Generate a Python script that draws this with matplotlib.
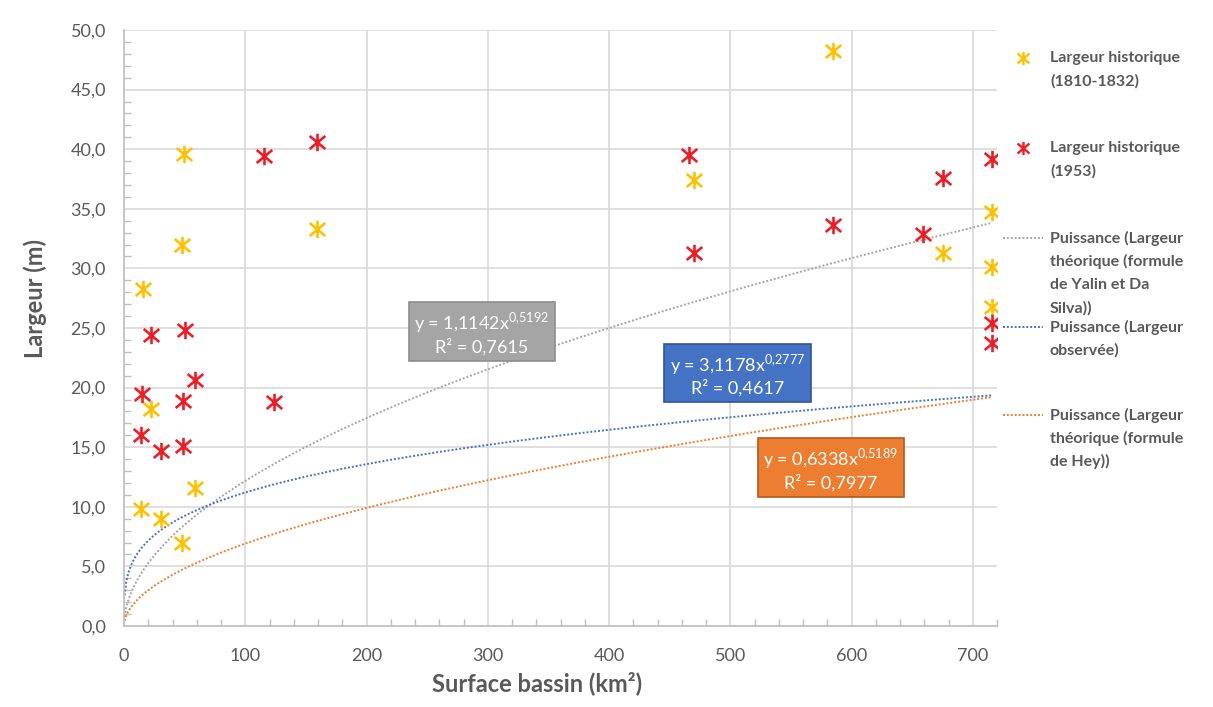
import numpy as np
import matplotlib.pyplot as plt
from matplotlib.lines import Line2D
from matplotlib.path import Path
from matplotlib.ticker import MultipleLocator, FuncFormatter

plt.rcParams['font.family'] = ['Lato', 'DejaVu Sans']

# historical widths (1810-1832)
hist1_x = [15.4, 49.6, 48.2, 22.0, 58.9, 13.8, 30.3, 48.2, 159.2, 470.5, 584.7, 675.5, 716, 716, 716]
hist1_y = [28.3, 39.6, 32.0, 18.2, 11.6, 9.8, 9.0, 7.0, 33.3, 37.4, 48.2, 31.3, 34.7, 30.1, 26.8]

# historical widths (1953)
hist2_x = [115.1, 159.2, 22.3, 50.4, 58.9, 15.1, 48.5, 123.4, 13.8, 30.3, 48.5,
           466.2, 470.5, 584.7, 659.0, 675.5, 716, 716, 716]
hist2_y = [39.4, 40.6, 24.4, 24.8, 20.6, 19.5, 18.9, 18.8, 16.0, 14.7, 15.1,
           39.5, 31.3, 33.6, 32.9, 37.6, 39.2, 25.4, 23.7]

# power trendlines y = a * x^b as printed on the chart
fit_a = [1.1142, 3.1178, 0.6338]
fit_b = [0.5192, 0.2777, 0.5189]
fit_r2 = ["0,7615", "0,4617", "0,7977"]
fit_colors = ["#A5A5A5", "#4472C4", "#ED7D31"]
box_edges = ["#8C8C8C", "#2F5597", "#B3581E"]
box_pos = [(295, 24.6), (506, 21.1), (583, 13.2)]

# excel style star: X plus a vertical bar
star = Path([(0, -1), (0, 1), (-0.9, -0.75), (0.9, 0.75), (-0.9, 0.75), (0.9, -0.75)],
            [Path.MOVETO, Path.LINETO, Path.MOVETO, Path.LINETO, Path.MOVETO, Path.LINETO])

W, H = 1213, 707
fig = plt.figure(figsize=(W / 100, H / 100), dpi=100)
ax = fig.add_axes([124 / W, 1 - 626 / H, (997 - 124) / W, (626 - 30) / H])

txt = "#595959"
xs = np.linspace(0.5, 716, 600)
for a, b, c in zip(fit_a, fit_b, fit_colors):
    ax.plot(xs, a * xs ** b, color=c, lw=1.4, ls=(0, (1, 1)), zorder=2)

ax.plot(hist1_x, hist1_y, ls='none', marker=star, ms=12.5, mew=1.9, color="#FFC000", zorder=3)
ax.plot(hist2_x, hist2_y, ls='none', marker=star, ms=12.5, mew=1.9, color="#EE1C25", zorder=3)

# equation boxes
for a, b, r2, c, e, (bx, by) in zip(fit_a, fit_b, fit_r2, fit_colors, box_edges, box_pos):
    sa = f"{a:.4f}".replace(".", ",")
    sb = f"{b:.4f}".replace(".", "{,}")
    s = "y = " + sa + "x$^{\\mathregular{" + sb + "}}$\nR² = " + r2
    ax.text(bx, by, s, ha='center', va='center', multialignment='center',
            color='white', fontsize=13, zorder=5,
            bbox=dict(boxstyle='square,pad=0.3', fc=c, ec=e, lw=1.2))

ax.set_xlim(0, 720)
ax.set_ylim(0, 50)
ax.xaxis.set_major_locator(MultipleLocator(100))
ax.xaxis.set_minor_locator(MultipleLocator(20))
ax.yaxis.set_major_locator(MultipleLocator(5))
ax.yaxis.set_minor_locator(MultipleLocator(1))
ax.yaxis.set_major_formatter(FuncFormatter(lambda v, p: f"{v:.1f}".replace(".", ",")))
ax.grid(True, which='major', color="#D9D9D9", lw=1.2)
ax.set_axisbelow(True)
for s in ['top', 'right']:
    ax.spines[s].set_visible(False)
for s in ['left', 'bottom']:
    ax.spines[s].set_color("#BFBFBF")
    ax.spines[s].set_linewidth(1.2)
ax.tick_params(which='major', length=0, labelsize=13, colors=txt)
ax.tick_params(axis='y', which='major', pad=13)
ax.tick_params(axis='x', which='major', pad=16)
ax.tick_params(which='minor', direction='in', length=5, color="#BFBFBF", width=1)

ax.set_xlabel("Surface bassin (km²)", fontsize=17, fontweight='bold', color=txt)
ax.xaxis.set_label_coords(0.473, -0.075)
ax.set_ylabel("Largeur (m)", fontsize=17, fontweight='bold', color=txt)
ax.yaxis.set_label_coords(-0.088, 0.55)

# legend drawn by hand so handles line up with the first text line
leg = [
    ("marker", "#FFC000", 58, ["Largeur historique", "(1810-1832)"]),
    ("marker", "#EE1C25", 148, ["Largeur historique", "(1953)"]),
    ("line", fit_colors[0], 238, ["Puissance (Largeur", "théorique (formule", "de Yalin et Da", "Silva))"]),
    ("line", fit_colors[1], 327, ["Puissance (Largeur", "observée)"]),
    ("line", fit_colors[2], 415, ["Puissance (Largeur", "théorique (formule", "de Hey))"]),
]
for kind, col, y0, lines in leg:
    fy = 1 - y0 / H
    if kind == "marker":
        fig.add_artist(Line2D([1023 / W], [fy], marker=star, ms=9.5, mew=1.7, color=col, ls='none'))
    else:
        fig.add_artist(Line2D([1003 / W, 1043 / W], [fy, fy], color=col, lw=1.4, ls=(0, (1, 1))))
    for i, t in enumerate(lines):
        fig.text(1050 / W, 1 - (y0 + i * 23.3) / H, t, ha='left', va='center',
                 fontsize=11.5, fontweight='bold', color=txt)

fig.savefig("out.png", dpi=100)
